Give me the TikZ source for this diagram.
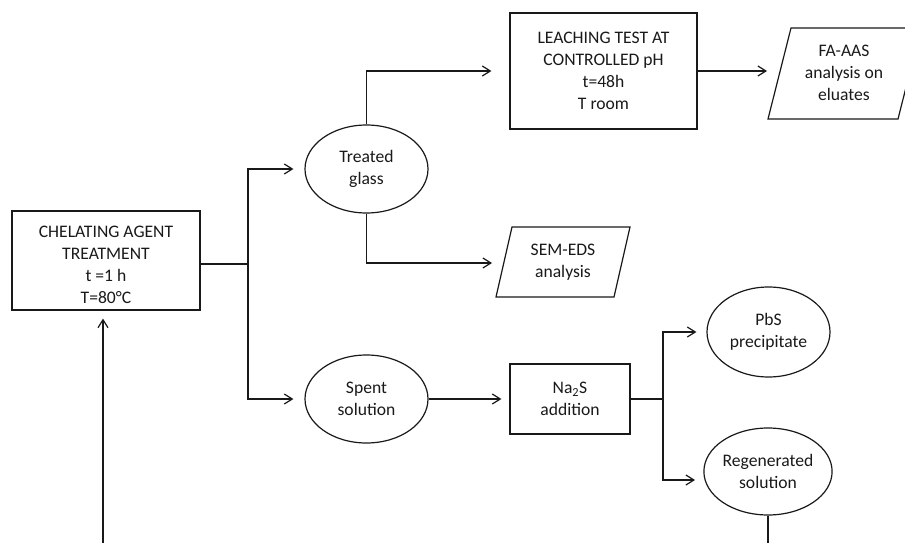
\documentclass[tikz,border=0pt]{standalone}
\usepackage{fontspec}
\setmainfont{Carlito}
\usetikzlibrary{shapes.geometric,arrows.meta}
\begin{document}
\begin{tikzpicture}[x=1pt,y=-1pt,
  line width=1.2pt, color=black!90,
  every node/.style={font=\fontsize{17.6}{22}\selectfont, align=center, inner sep=0pt},
  box/.style={draw, rectangle},
  oval/.style={draw, ellipse},
  flow/.style={-{Straight Barb[length=8pt,width=10pt]}},
]
\useasboundingbox (0,0) rectangle (905,543);

% process steps
\node[box, minimum width=188, minimum height=99] (chel) at (106,260.5) {};
\node (cheltext) at ([yshift=-4.5pt]chel.center)
  {CHELATING AGENT\\TREATMENT\\t =1 h\\T=80°C};
\node[box, minimum width=187, minimum height=116] (leach) at (603.5,71)
  {LEACHING TEST AT\\CONTROLLED pH\\t=48h\\T room};
\node[box, minimum width=120, minimum height=70] (na) at (570,399)
  {Na\textsubscript{2}S\\addition};

% materials
\node[oval, minimum width=123, minimum height=88] (tg) at (366.5,169) {Treated\\glass};
\node[oval, minimum width=123, minimum height=88] (sp) at (366.5,399) {Spent\\solution};
\node[oval, minimum width=123, minimum height=90] (pbs) at (768.5,332) {PbS\\precipitate};
\node[oval, minimum width=124, minimum height=87] (rg) at (768,471.5) {Regenerated\\solution};

% analyses (parallelograms)
\draw (496,297) -- (614,297) -- (630,227) -- (512,227) -- cycle;
\node (sem) at (563,262) {SEM-EDS\\analysis};
\draw (768,119) -- (898,119) -- (921,28) -- (791,28) -- cycle;
\node (fa) at (844,73) {FA-AAS\\analysis on\\eluates};

% junctions and open ends
\coordinate (split) at (248,264);
\coordinate (fork) at (663,399);
\coordinate (semin) at (492,263);
\coordinate (fain) at (767,71);
\coordinate (rgin) at (695,480);
\coordinate (feed) at (103,543);
\coordinate (rgout) at (768,543);

% connectors
\draw (chel.east |- split) -- (split);
\draw[flow, shorten >=11pt] (split) |- (tg.west);
\draw[flow, shorten >=11pt] (split) |- (sp.west);
\draw[flow, shorten >=18pt] (tg.north) |- (leach.west);
\draw[flow] (leach.east) -- (fain);
\draw[flow] (tg.south) |- (semin);
\draw[flow, shorten >=8pt] (sp.east) -- (sp.east -| na.west);
\draw (na.east |- fork) -- (fork);
\draw[flow, shorten >=10pt] (fork) |- (pbs.west);
\draw[flow] (fork) |- (rgin);
\draw (rg.south) -- (rgout);
\draw[flow, shorten >=8pt] (feed) -- (feed |- chel.south);
\end{tikzpicture}
\end{document}
